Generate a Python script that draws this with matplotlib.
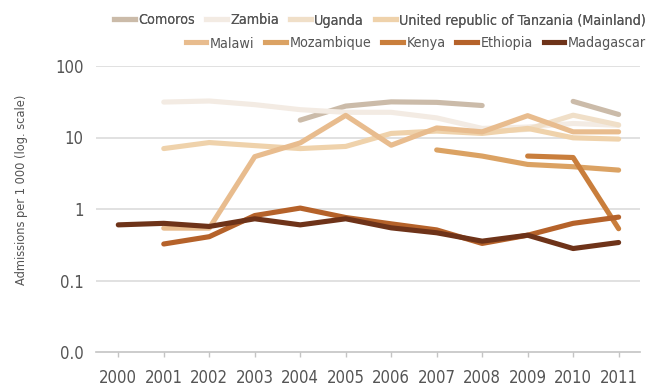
import numpy as np
import matplotlib.pyplot as plt
from matplotlib import font_manager
from matplotlib.lines import Line2D

# narrow face if there is one, else condensed DejaVu
_names = {f.name for f in font_manager.fontManager.ttflist}
if 'Liberation Sans Narrow' in _names:
    plt.rcParams['font.family'] = ['Liberation Sans Narrow', 'DejaVu Sans']
else:
    plt.rcParams['font.family'] = ['DejaVu Sans']
    plt.rcParams['font.stretch'] = 'condensed'

nan = np.nan
years = list(range(2000, 2012))

comoros = [nan, nan, nan, nan, 17.5, 27.5, 31.5, 31, 28, nan, 32, 21]
zambia = [nan, 31.3, 32.4, 28.8, 24.5, 22.5, 22.5, 18.8, 13.4, 14, 15.7, 14.8]
uganda = [nan, nan, nan, nan, nan, nan, nan, nan, 12, 13, 20.5, 15]
tanzania = [nan, 7.0, 8.5, 7.7, 7.0, 7.5, 11.4, 12.3, 11.4, 13.4, 9.9, 9.5]
malawi = [nan, 0.54, 0.54, 5.4, 8.4, 20.4, 7.8, 13.6, 12.0, 20.2, 12, 12]
mozambique = [nan, nan, nan, nan, nan, nan, nan, 6.7, 5.5, 4.2, 3.9, 3.5]
kenya = [nan, nan, nan, nan, nan, nan, nan, nan, nan, 5.5, 5.25, 0.53]
ethiopia = [nan, 0.324, 0.41, 0.81, 1.03, 0.76, 0.62, 0.51, 0.33, 0.43, 0.63, 0.77]
madagascar = [0.60, 0.63, 0.57, 0.73, 0.60, 0.73, 0.545, 0.465, 0.355, 0.43, 0.28, 0.34]

row1 = [('Comoros', comoros, '#cbbba9'),
        ('Zambia', zambia, '#f3ebe3'),
        ('Uganda', uganda, '#f0dfc8'),
        ('United republic of Tanzania (Mainland)', tanzania, '#efd2ab')]
row2 = [('Malawi', malawi, '#e8bc8e'),
        ('Mozambique', mozambique, '#dba263'),
        ('Kenya', kenya, '#c97e3c'),
        ('Ethiopia', ethiopia, '#b5622a'),
        ('Madagascar', madagascar, '#6e3319')]

ytick_vals = [0.01, 0.1, 1, 10, 100]
ytick_labels = ['0.0', '0.1', '1', '10', '100']

txt = '#555555'
grid = '#dcdcdc'

fig = plt.figure(figsize=(6.49, 3.88), dpi=100)
ax = fig.add_axes([96 / 649, 1 - 352 / 388, 544 / 649, 286 / 388])

for name, vals, col in row1 + row2:
    ax.plot(years, vals, color=col, lw=3.7, solid_capstyle='round',
            solid_joinstyle='round')

ax.set_yscale('log')
ax.set_ylim(0.01, 100)
ax.set_xlim(1999.51, 2011.47)
ax.set_yticks(ytick_vals)
ax.set_yticklabels(ytick_labels)
ax.yaxis.set_minor_locator(plt.NullLocator())
ax.set_xticks(years)
ax.set_xticklabels([str(y) for y in years])

for v in ytick_vals[1:]:
    ax.axhline(v, color=grid, lw=1.2, zorder=0)

for s in ['top', 'right', 'left']:
    ax.spines[s].set_visible(False)
ax.spines['bottom'].set_color('#c4c4c4')
ax.spines['bottom'].set_linewidth(1.2)
ax.tick_params(axis='x', colors='#c4c4c4', length=3.5, width=1, labelcolor=txt,
               labelsize=12, pad=8.5)
ax.tick_params(axis='y', length=0, labelcolor=txt, labelsize=12, pad=9)

fig.text(22 / 649, 1 - 190 / 388, 'Admissions per 1 000 (log. scale)',
         rotation=90, ha='center', va='center', color=txt, fontsize=9.2)

lkw = dict(frameon=False, fontsize=10.3, handlelength=1.45, handletextpad=0.25,
           columnspacing=0.75, borderaxespad=0, borderpad=0, labelcolor=txt)
h1 = [Line2D([], [], color=c, lw=3.7) for _, _, c in row1]
h2 = [Line2D([], [], color=c, lw=3.7) for _, _, c in row2]
leg1 = fig.legend(h1, [n for n, _, _ in row1], ncol=4, loc='center right',
                  bbox_to_anchor=(646 / 649, 1 - 20.5 / 388), **lkw)
leg2 = fig.legend(h2, [n for n, _, _ in row2], ncol=5, loc='center right',
                  bbox_to_anchor=(646 / 649, 1 - 43.5 / 388), **lkw)
fig.add_artist(leg1)

fig.savefig('out.png', dpi=100)
